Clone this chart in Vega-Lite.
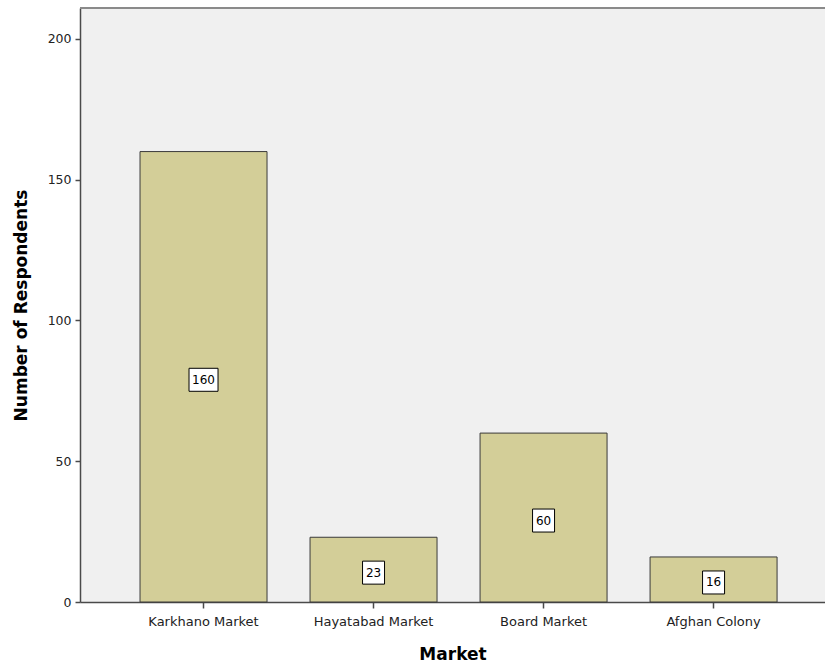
{
  "$schema": "https://vega.github.io/schema/vega-lite/v6.json",
  "width": 745,
  "height": 594,
  "autosize": {"type": "none"},
  "padding": {"left": 80, "top": 8, "right": 0, "bottom": 64},
  "background": "white",
  "config": {
    "view": {"fill": "#F0F0F0", "stroke": null},
    "font": "DejaVu Sans",
    "axis": {
      "domainColor": "#4A4A4A",
      "domainWidth": 1.5,
      "tickColor": "#4A4A4A",
      "tickWidth": 1.5,
      "grid": false,
      "labelColor": "#222222",
      "labelFont": "DejaVu Sans",
      "titleFont": "DejaVu Sans",
      "titleFontWeight": "bold",
      "titleFontSize": 17,
      "titleColor": "#000000"
    },
    "axisY": {
      "tickSize": 5,
      "labelFontSize": 12.5,
      "labelPadding": 4,
      "titlePadding": 17
    },
    "axisX": {
      "tickSize": 6,
      "labelFontSize": 13,
      "labelPadding": 7,
      "labelAngle": 0,
      "titlePadding": 18
    }
  },
  "data": {
    "values": [
      {"Market": "Karkhano Market", "Count": 160},
      {"Market": "Hayatabad Market", "Count": 23},
      {"Market": "Board Market", "Count": 60},
      {"Market": "Afghan Colony", "Count": 16}
    ]
  },
  "transform": [{"calculate": "datum.Count / 2", "as": "mid"}],
  "encoding": {
    "x": {
      "field": "Market",
      "type": "nominal",
      "sort": null,
      "title": "Market",
      "scale": {"paddingInner": 0.253, "paddingOuter": 0.3175, "align": 0.556}
    }
  },
  "layer": [
    {
      "mark": {"type": "bar", "fill": "#D3CE98", "stroke": "#3A3A3A", "strokeWidth": 1},
      "encoding": {
        "y": {
          "field": "Count",
          "type": "quantitative",
          "title": "Number of Respondents",
          "axis": {"values": [0, 50, 100, 150, 200]},
          "scale": {"domain": [0, 211], "nice": false, "zero": true}
        }
      }
    },
    {
      "mark": {"type": "rule", "color": "#8A8A8A", "strokeWidth": 2},
      "encoding": {
        "x": {"value": 0},
        "x2": {"value": 745},
        "y": {"datum": 211, "type": "quantitative", "title": "Number of Respondents", "axis": {"values": [0, 50, 100, 150, 200]}}
      }
    },
    {
      "transform": [{"filter": "datum.Count >= 100"}],
      "mark": {
        "type": "point",
        "shape": "M-1,-0.793L1,-0.793L1,0.793L-1,0.793Z",
        "size": 841,
        "filled": true,
        "fill": "white",
        "stroke": "black",
        "strokeWidth": 1,
        "opacity": 1,
        "yOffset": 3
      },
      "encoding": {
        "y": {"field": "mid", "type": "quantitative", "title": "Number of Respondents", "axis": {"values": [0, 50, 100, 150, 200]}}
      }
    },
    {
      "transform": [{"filter": "datum.Count < 100"}],
      "mark": {
        "type": "point",
        "shape": "M-0.957,-1L0.957,-1L0.957,1L-0.957,1Z",
        "size": 529,
        "filled": true,
        "fill": "white",
        "stroke": "black",
        "strokeWidth": 1,
        "opacity": 1,
        "yOffset": 3
      },
      "encoding": {
        "y": {"field": "mid", "type": "quantitative", "title": "Number of Respondents", "axis": {"values": [0, 50, 100, 150, 200]}}
      }
    },
    {
      "mark": {"type": "text", "font": "DejaVu Sans", "fontSize": 12, "color": "black", "baseline": "middle", "align": "center", "yOffset": 3},
      "encoding": {
        "y": {"field": "mid", "type": "quantitative", "title": "Number of Respondents", "axis": {"values": [0, 50, 100, 150, 200]}},
        "text": {"field": "Count", "type": "quantitative"}
      }
    }
  ]
}
